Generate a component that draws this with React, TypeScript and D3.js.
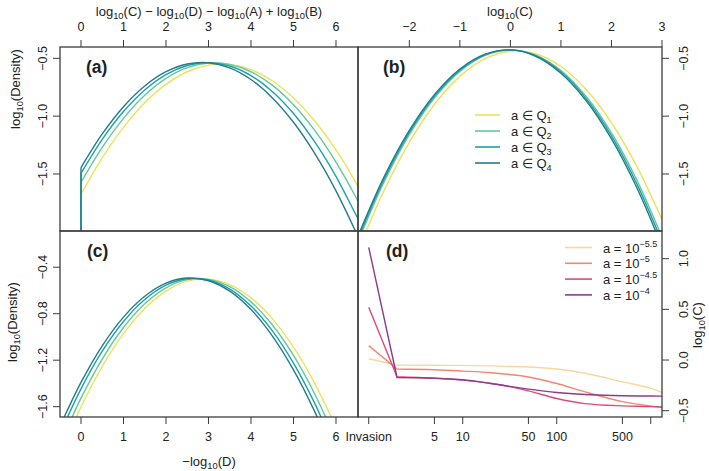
import React from 'react';
import * as d3 from 'd3';

const FONT = '"Liberation Sans", Arial, Helvetica, sans-serif';
const INK = '#3c3c3c';

// ---- panels (a)-(c): quartiles of a ----
const qColors = ['#eee15b', '#63c89b', '#18a3a8', '#257a8f'];
const qNames = ['1', '2', '3', '4'];

// (a) x = log10(C) - log10(D) - log10(A) + log10(B)
const aX = [0, 0.5, 1, 1.5, 2, 2.5, 3, 3.5, 4, 4.5, 5, 5.5, 6, 6.5, 6.52];
const aQ1 = [-1.674, -1.360, -1.097, -0.885, -0.725, -0.616, -0.559, -0.553, -0.598, -0.694, -0.842, -1.042, -1.292, -1.594, -1.609];
const aQ2 = [-1.573, -1.270, -1.019, -0.820, -0.674, -0.581, -0.540, -0.552, -0.616, -0.732, -0.901, -1.123, -1.397, -1.723, -1.739];
const aQ3 = [-1.494, -1.200, -0.960, -0.773, -0.640, -0.562, -0.537, -0.566, -0.649, -0.786, -0.977, -1.222, -1.520, -1.873, -1.883];
const aQ4 = [-1.445, -1.154, -0.918, -0.739, -0.616, -0.549, -0.538, -0.582, -0.683, -0.840, -1.053, -1.322, -1.646, -2.027, -2.043];

// (b) x = log10(C)
const bX = [-3, -2.5, -2, -1.5, -1, -0.5, 0, 0.5, 1, 1.5, 2, 2.5, 3];
const bQ1 = [-2.148, -1.643, -1.226, -0.897, -0.656, -0.503, -0.438, -0.460, -0.571, -0.770, -1.057, -1.432, -1.895];
const bQ2 = [-2.068, -1.568, -1.159, -0.841, -0.613, -0.475, -0.428, -0.472, -0.605, -0.830, -1.145, -1.550, -2.046];
const bQ3 = [-2.043, -1.546, -1.141, -0.826, -0.602, -0.469, -0.427, -0.476, -0.616, -0.848, -1.170, -1.583, -2.087];
const bQ4 = [-2.020, -1.525, -1.123, -0.812, -0.592, -0.464, -0.427, -0.482, -0.629, -0.867, -1.196, -1.617, -2.129];

// (c) x = -log10(D)
const cX = [-0.5, 0, 0.5, 1, 1.5, 2, 2.5, 3, 3.5, 4, 4.5, 5, 5.5, 6];
const cQ1 = [-2.017, -1.603, -1.254, -0.972, -0.755, -0.605, -0.520, -0.502, -0.549, -0.663, -0.842, -1.088, -1.399, -1.777];
const cQ2 = [-1.932, -1.527, -1.190, -0.919, -0.715, -0.577, -0.507, -0.504, -0.567, -0.698, -0.895, -1.159, -1.491, -1.889];
const cQ3 = [-1.837, -1.447, -1.123, -0.867, -0.677, -0.554, -0.499, -0.510, -0.588, -0.734, -0.946, -1.226, -1.572, -1.985];
const cQ4 = [-1.773, -1.391, -1.076, -0.829, -0.650, -0.537, -0.493, -0.516, -0.606, -0.764, -0.990, -1.283, -1.643, -2.071];

// ---- panel (d): log10(C) over time after invasion ----
const dColors = ['#f9d69c', '#f4866f', '#de4a7b', '#8b3b8c'];
const dExponents = ['\u22125.5', '\u22125', '\u22124.5', '\u22124'];
const dT = [1, 2, 5, 10, 20, 50, 100, 200, 500, 1000, 1320];
const dA55 = [0.013, -0.050, -0.052, -0.053, -0.058, -0.069, -0.089, -0.130, -0.215, -0.280, -0.320];
const dA50 = [0.142, -0.089, -0.096, -0.109, -0.125, -0.168, -0.231, -0.314, -0.410, -0.455, -0.470];
const dA45 = [0.521, -0.165, -0.180, -0.198, -0.231, -0.304, -0.380, -0.430, -0.452, -0.458, -0.462];
const dA40 = [1.112, -0.172, -0.178, -0.195, -0.231, -0.287, -0.320, -0.340, -0.353, -0.355, -0.356];

// ---- ticks ----
const acTicks = [0, 1, 2, 3, 4, 5, 6];
const abDensityTicks = [-0.5, -1.0, -1.5];
const abDensityLabels = ['\u22120.5', '\u22121.0', '\u22121.5'];
const bTicks = [-2, -1, 0, 1, 2, 3];
const bTickLabels = ['\u22122', '\u22121', '0', '1', '2', '3'];
const cDensityTicks = [-0.4, -0.8, -1.2, -1.6];
const cDensityLabels = ['\u22120.4', '\u22120.8', '\u22121.2', '\u22121.6'];
const dTimeTicks = [1, 5, 10, 50, 100, 500, 1000];
const dTimeLabels = ['Invasion', '5', '10', '50', '100', '500', ''];
const dCTicks = [1.0, 0.5, 0.0, -0.5];
const dCLabels = ['1.0', '0.5', '0.0', '\u22120.5'];

// frame edges
const L = 60, M = 358, R = 662, T = 47, MID = 231, B = 417;
const TICK = 7;

const xA = d3.scaleLinear().domain([-0.494, 6.518]).range([L, M]);
const yA = d3.scaleLinear().domain([-1.993, -0.402]).range([MID, T]);
const xB = d3.scaleLinear().domain([-3.016, 3]).range([M, R]);
const yC = d3.scaleLinear().domain([-1.689, -0.088]).range([B, MID]);
const xD = d3.scaleLog().domain([0.769, 1318]).range([M, R]);
const yD = d3.scaleLinear().domain([-0.562, 1.273]).range([B, MID]);

const smooth = d3.line().curve(d3.curveCatmullRom.alpha(0.5));
const straight = d3.line();
const mono = d3.line().curve(d3.curveMonotoneX);

function curve(xs, ys, sx, sy) {
	return smooth(xs.map((x, i) => [sx(x), sy(ys[i])]));
}

// first step (invasion -> t=2) is a straight jump, the rest is smooth
function dPath(ys) {
	const pts = dT.map((t, i) => [xD(t), yD(ys[i])]);
	const rest = mono(pts.slice(1));
	return `M${pts[0][0]},${pts[0][1]}L` + rest.slice(1);
}

function Log10({ arg, size = 13, prefix = '' }) {
	return (
		<>
			<tspan>{prefix}log</tspan>
			<tspan fontSize={size * 0.72} dy={3}>10</tspan>
			<tspan dy={-3}>({arg})</tspan>
		</>
	);
}

function PanelLetter({ x, y, text }) {
	return <text x={x} y={y} fontSize={17.5} fontWeight="bold">{text}</text>;
}

export default function App() {
	const aSeries = [aQ1, aQ2, aQ3, aQ4];
	const bSeries = [bQ1, bQ2, bQ3, bQ4];
	const cSeries = [cQ1, cQ2, cQ3, cQ4];
	const dSeries = [dA55, dA50, dA45, dA40];

	return (
		<svg width={709} height={471} style={{ position: 'absolute', left: 0, top: 0, background: '#fff' }}
			fontFamily={FONT} fill="#222">
			<defs>
				<clipPath id="clipA"><rect x={L} y={T} width={M - L} height={MID - T} /></clipPath>
				<clipPath id="clipB"><rect x={M} y={T} width={R - M} height={MID - T} /></clipPath>
				<clipPath id="clipC"><rect x={L} y={MID} width={M - L} height={B - MID} /></clipPath>
				<clipPath id="clipD"><rect x={M} y={MID} width={R - M} height={B - MID} /></clipPath>
			</defs>

			{/* (a) */}
			<g clipPath="url(#clipA)" fill="none" strokeWidth={1.4}>
				{aSeries.map((ys, i) => (
					<g key={i} stroke={qColors[i]}>
						<path d={straight([[xA(0), yA(ys[0])], [xA(0), MID + 5]])} />
						<path d={curve(aX, ys, xA, yA)} />
					</g>
				))}
			</g>

			{/* (b) */}
			<g clipPath="url(#clipB)" fill="none" strokeWidth={1.4}>
				{bSeries.map((ys, i) => (
					<path key={i} stroke={qColors[i]} d={curve(bX, ys, xB, yA)} />
				))}
			</g>

			{/* (c) */}
			<g clipPath="url(#clipC)" fill="none" strokeWidth={1.4}>
				{cSeries.map((ys, i) => (
					<path key={i} stroke={qColors[i]} d={curve(cX, ys, xA, yC)} />
				))}
			</g>

			{/* (d) */}
			<g clipPath="url(#clipD)" fill="none" strokeWidth={1.4}>
				{dSeries.map((ys, i) => (
					<path key={i} stroke={dColors[i]} d={dPath(ys)} />
				))}
			</g>

			{/* frames */}
			<g fill="none" stroke={INK} strokeWidth={1.3}>
				<rect x={L} y={T} width={M - L} height={MID - T} />
				<rect x={M} y={T} width={R - M} height={MID - T} />
				<rect x={L} y={MID} width={M - L} height={B - MID} />
				<rect x={M} y={MID} width={R - M} height={B - MID} />
			</g>

			{/* ticks */}
			<g stroke={INK} strokeWidth={1}>
				{acTicks.map(t => <line key={'at' + t} x1={xA(t)} x2={xA(t)} y1={T} y2={T - TICK} />)}
				{bTicks.map(t => <line key={'bt' + t} x1={xB(t)} x2={xB(t)} y1={T} y2={T - TICK} />)}
				{acTicks.map(t => <line key={'cb' + t} x1={xA(t)} x2={xA(t)} y1={B} y2={B + TICK} />)}
				{dTimeTicks.map(t => <line key={'db' + t} x1={xD(t)} x2={xD(t)} y1={B} y2={B + TICK} />)}
				{abDensityTicks.map(t => <line key={'al' + t} x1={L} x2={L - TICK} y1={yA(t)} y2={yA(t)} />)}
				{abDensityTicks.map(t => <line key={'br' + t} x1={R} x2={R + TICK} y1={yA(t)} y2={yA(t)} />)}
				{cDensityTicks.map(t => <line key={'cl' + t} x1={L} x2={L - TICK} y1={yC(t)} y2={yC(t)} />)}
				{dCTicks.map(t => <line key={'dr' + t} x1={R} x2={R + TICK} y1={yD(t)} y2={yD(t)} />)}
			</g>

			{/* tick labels */}
			<g fontSize={12.5} textAnchor="middle">
				{acTicks.map(t => <text key={'at' + t} x={xA(t)} y={31}>{t}</text>)}
				{bTicks.map((t, i) => <text key={'bt' + t} x={xB(t)} y={31}>{bTickLabels[i]}</text>)}
				{acTicks.map(t => <text key={'cb' + t} x={xA(t)} y={441}>{t}</text>)}
				{dTimeTicks.map((t, i) => <text key={'db' + t} x={xD(t)} y={441}>{dTimeLabels[i]}</text>)}
				{abDensityTicks.map((t, i) => (
					<text key={'al' + t} transform={`translate(46.5,${yA(t)}) rotate(-90)`}>{abDensityLabels[i]}</text>
				))}
				{abDensityTicks.map((t, i) => (
					<text key={'br' + t} transform={`translate(688,${yA(t)}) rotate(-90)`}>{abDensityLabels[i]}</text>
				))}
				{cDensityTicks.map((t, i) => (
					<text key={'cl' + t} transform={`translate(46.5,${yC(t)}) rotate(-90)`}>{cDensityLabels[i]}</text>
				))}
				{dCTicks.map((t, i) => (
					<text key={'dr' + t} transform={`translate(688,${yD(t)}) rotate(-90)`}>{dCLabels[i]}</text>
				))}
			</g>

			{/* axis titles */}
			<g fontSize={13} textAnchor="middle">
				<text x={(L + M) / 2} y={16}>
					<Log10 arg="C" /><tspan>{' \u2212 '}</tspan>
					<Log10 arg="D" /><tspan>{' \u2212 '}</tspan>
					<Log10 arg="A" /><tspan>{' + '}</tspan>
					<Log10 arg="B" />
				</text>
				<text x={(M + R) / 2} y={16}><Log10 arg="C" /></text>
				<text x={(L + M) / 2} y={466}><Log10 arg="D" prefix={'\u2212'} /></text>
				<text transform="translate(20,89) rotate(-90)"><Log10 arg="Density" /></text>
				<text transform="translate(16.5,322) rotate(-90)"><Log10 arg="Density" /></text>
				<text transform="translate(702,325) rotate(-90)"><Log10 arg="C" /></text>
			</g>

			<PanelLetter x={86} y={73} text="(a)" />
			<PanelLetter x={383} y={73} text="(b)" />
			<PanelLetter x={87} y={257} text="(c)" />
			<PanelLetter x={386} y={257} text="(d)" />

			{/* legend (b) */}
			<g fontSize={13}>
				{qNames.map((q, i) => {
					const y = 115 + i * 16;
					return (
						<g key={q}>
							<line x1={475} x2={500} y1={y} y2={y} stroke={qColors[i]} strokeWidth={1.6} />
							<text x={511} y={y + 4.5}>
								<tspan>{'a \u2208 Q'}</tspan>
								<tspan fontSize={9} dy={3}>{q}</tspan>
							</text>
						</g>
					);
				})}
			</g>

			{/* legend (d) */}
			<g fontSize={13}>
				{dExponents.map((e, i) => {
					const y = 247.5 + i * 15.8;
					return (
						<g key={e}>
							<line x1={565} x2={592} y1={y} y2={y} stroke={dColors[i]} strokeWidth={1.6} />
							<text x={603} y={y + 5}>
								<tspan>{'a = 10'}</tspan>
								<tspan fontSize={9} dy={-6}>{e}</tspan>
							</text>
						</g>
					);
				})}
			</g>
		</svg>
	);
}
